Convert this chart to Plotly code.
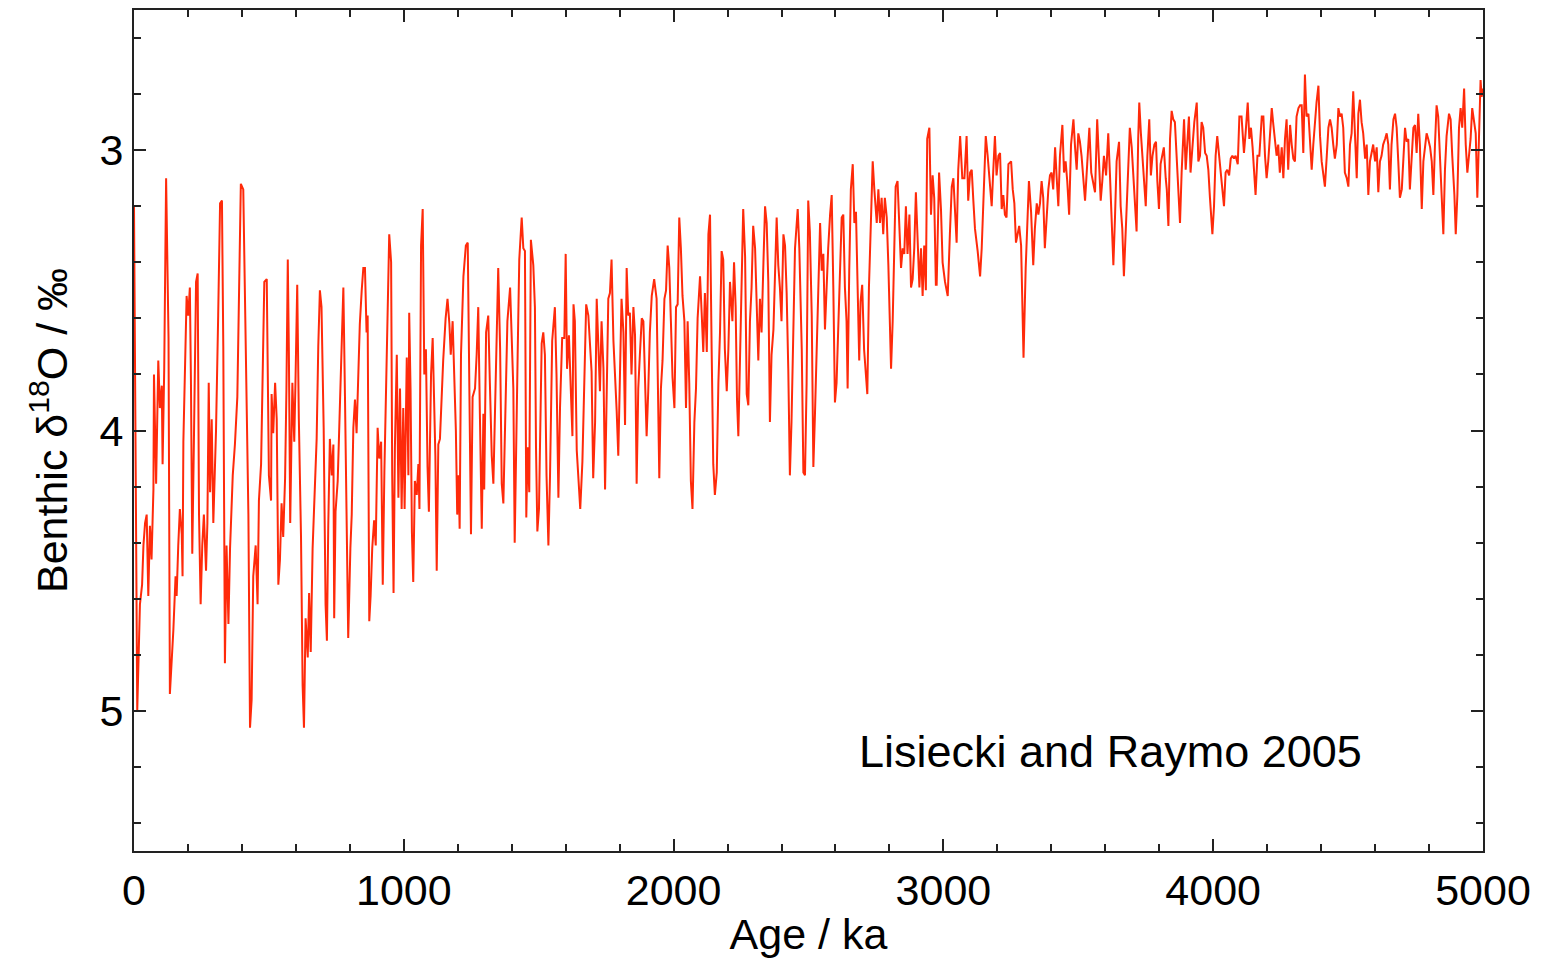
import plotly.graph_objects as go

# LR04 benthic d18O stack (Lisiecki & Raymo 2005), age in ka and d18O in permil
age_ka = [
    0, 5, 12, 22, 30, 35, 41, 47, 53, 59, 65, 72, 74, 82, 90, 96, 103, 106, 112, 119,
    128, 133, 140, 146, 154, 158, 164, 170, 177, 180, 183, 189, 195, 201, 207, 211, 216, 222, 230, 236,
    241, 247, 253, 259, 267, 272, 277, 282, 288, 294, 304, 312, 319, 326, 331, 337, 343, 350, 356, 366,
    374, 383, 390, 396, 405, 411, 418, 424, 430, 436, 442, 451, 458, 463, 471, 476, 483, 492, 495, 500,
    508, 510, 516, 523, 529, 535, 541, 547, 553, 560, 565, 570, 574, 579, 587, 594, 599, 605, 611, 619,
    625, 630, 636, 644, 649, 655, 662, 671, 677, 683, 689, 695, 703, 710, 715, 720, 726, 733, 739, 742,
    747, 755, 763, 770, 776, 782, 788, 794, 802, 807, 813, 819, 825, 831, 837, 844, 850, 856, 862, 866,
    872, 877, 883, 890, 896, 903, 909, 916, 922, 928, 934, 939, 946, 953, 957, 962, 967, 974, 980, 986,
    992, 998, 1003, 1011, 1017, 1020, 1025, 1030, 1035, 1041, 1048, 1054, 1058, 1064, 1070, 1076, 1082, 1088, 1093, 1101,
    1107, 1112, 1117, 1122, 1128, 1134, 1140, 1146, 1155, 1162, 1169, 1174, 1181, 1187, 1193, 1198, 1203, 1207, 1212, 1221,
    1230, 1237, 1243, 1249, 1255, 1264, 1270, 1276, 1282, 1289, 1295, 1298, 1305, 1313, 1319, 1326, 1332, 1338, 1344, 1350,
    1357, 1363, 1369, 1375, 1384, 1394, 1400, 1406, 1411, 1417, 1422, 1428, 1437, 1443, 1449, 1454, 1459, 1465, 1471, 1480,
    1486, 1490, 1495, 1501, 1506, 1511, 1517, 1523, 1529, 1536, 1542, 1550, 1560, 1566, 1573, 1579, 1587, 1595, 1600, 1605,
    1612, 1618, 1625, 1629, 1634, 1641, 1647, 1654, 1662, 1669, 1676, 1684, 1690, 1696, 1702, 1709, 1715, 1721, 1727, 1733,
    1740, 1746, 1752, 1758, 1764, 1770, 1777, 1783, 1789, 1795, 1801, 1807, 1814, 1820, 1826, 1832, 1838, 1844, 1851, 1857,
    1863, 1869, 1875, 1882, 1888, 1894, 1900, 1906, 1912, 1919, 1928, 1937, 1943, 1947, 1953, 1959, 1966, 1972, 1978, 1984,
    1990, 1996, 2003, 2009, 2015, 2021, 2027, 2033, 2040, 2046, 2052, 2058, 2064, 2070, 2077, 2083, 2089, 2098, 2104, 2110,
    2116, 2123, 2129, 2135, 2141, 2147, 2153, 2160, 2166, 2172, 2178, 2184, 2190, 2197, 2203, 2209, 2218, 2224, 2230, 2235,
    2240, 2246, 2252, 2258, 2265, 2271, 2277, 2283, 2289, 2295, 2302, 2308, 2314, 2320, 2326, 2333, 2339, 2345, 2351, 2357,
    2363, 2370, 2376, 2382, 2388, 2394, 2400, 2407, 2413, 2419, 2425, 2431, 2437, 2444, 2450, 2460, 2466, 2475, 2481, 2487,
    2493, 2499, 2505, 2512, 2518, 2524, 2530, 2536, 2543, 2549, 2555, 2561, 2567, 2573, 2580, 2586, 2592, 2598, 2604, 2611,
    2617, 2623, 2629, 2635, 2641, 2645, 2651, 2657, 2664, 2670, 2676, 2682, 2688, 2693, 2699, 2706, 2712, 2718, 2724, 2730,
    2738, 2744, 2753, 2759, 2765, 2771, 2777, 2783, 2790, 2796, 2802, 2806, 2812, 2817, 2823, 2830, 2837, 2843, 2849, 2855,
    2861, 2867, 2874, 2880, 2886, 2892, 2898, 2904, 2911, 2917, 2923, 2929, 2935, 2940, 2948, 2954, 2960, 2966, 2972, 2975,
    2984, 2991, 2997, 3006, 3016, 3024, 3031, 3037, 3043, 3049, 3055, 3062, 3070, 3078, 3086, 3092, 3099, 3105, 3111, 3117,
    3127, 3136, 3142, 3148, 3157, 3164, 3173, 3179, 3185, 3191, 3197, 3204, 3210, 3216, 3222, 3228, 3234, 3241, 3251, 3257,
    3263, 3269, 3275, 3281, 3288, 3293, 3297, 3305, 3311, 3317, 3325, 3333, 3339, 3346, 3352, 3358, 3364, 3370, 3376, 3383,
    3389, 3395, 3401, 3407, 3414, 3420, 3426, 3432, 3441, 3447, 3453, 3459, 3466, 3473, 3482, 3488, 3494, 3500, 3506, 3512,
    3519, 3525, 3533, 3541, 3548, 3556, 3562, 3570, 3578, 3583, 3589, 3595, 3603, 3611, 3617, 3624, 3630, 3636, 3642, 3651,
    3657, 3663, 3669, 3677, 3683, 3691, 3698, 3704, 3710, 3716, 3722, 3726, 3732, 3738, 3743, 3750, 3756, 3763, 3769, 3775,
    3782, 3788, 3793, 3799, 3805, 3811, 3817, 3824, 3828, 3834, 3840, 3846, 3852, 3858, 3865, 3871, 3877, 3883, 3892, 3898,
    3904, 3910, 3916, 3923, 3930, 3939, 3945, 3951, 3957, 3963, 3970, 3976, 3982, 3988, 3997, 4003, 4009, 4015, 4022, 4028,
    4034, 4040, 4046, 4052, 4059, 4065, 4071, 4077, 4083, 4091, 4097, 4105, 4114, 4120, 4128, 4134, 4140, 4146, 4152, 4157,
    4164, 4171, 4180, 4186, 4192, 4198, 4204, 4210, 4217, 4223, 4229, 4235, 4241, 4247, 4254, 4260, 4266, 4272, 4278, 4285,
    4291, 4297, 4303, 4309, 4316, 4322, 4328, 4334, 4340, 4346, 4353, 4359, 4365, 4371, 4377, 4383, 4390, 4396, 4402, 4408,
    4414, 4421, 4427, 4433, 4439, 4445, 4451, 4458, 4464, 4470, 4476, 4482, 4488, 4495, 4501, 4507, 4513, 4519, 4525, 4532,
    4538, 4544, 4550, 4556, 4563, 4569, 4575, 4581, 4587, 4593, 4600, 4606, 4612, 4618, 4624, 4630, 4637, 4643, 4649, 4655,
    4661, 4668, 4674, 4680, 4686, 4692, 4699, 4705, 4711, 4717, 4723, 4729, 4736, 4742, 4748, 4754, 4760, 4766, 4773, 4779,
    4785, 4791, 4797, 4804, 4810, 4816, 4822, 4828, 4834, 4841, 4847, 4853, 4859, 4865, 4874, 4880, 4886, 4894, 4899, 4905,
    4911, 4917, 4923, 4930, 4936, 4942, 4948, 4954, 4960, 4966, 4973, 4979, 4985, 4991, 4995, 5000,
]

d18o_permil = [
    3.20, 3.83, 5.00, 4.62, 4.55, 4.41, 4.33, 4.30, 4.59, 4.34, 4.46, 4.21, 3.80, 4.19, 3.75, 3.92, 3.84, 4.12, 3.78, 3.10,
    3.67, 4.94, 4.82, 4.71, 4.52, 4.59, 4.41, 4.28, 4.37, 4.52, 4.04, 3.76, 3.52, 3.59, 3.49, 3.82, 4.44, 4.04, 3.47, 3.44,
    4.30, 4.62, 4.41, 4.30, 4.50, 4.33, 3.83, 4.22, 3.96, 4.33, 4.00, 3.59, 3.19, 3.18, 3.70, 4.83, 4.41, 4.69, 4.42, 4.16,
    4.05, 3.88, 3.41, 3.12, 3.14, 3.50, 3.96, 4.30, 5.06, 4.96, 4.52, 4.41, 4.62, 4.25, 4.12, 3.79, 3.47, 3.46, 3.78, 4.16,
    4.25, 3.87, 4.01, 3.83, 3.96, 4.55, 4.46, 4.26, 4.38, 4.17, 3.85, 3.39, 3.72, 4.33, 3.83, 4.04, 3.80, 3.48, 3.96, 4.38,
    4.91, 5.06, 4.67, 4.81, 4.58, 4.79, 4.42, 4.18, 4.03, 3.70, 3.50, 3.56, 3.99, 4.62, 4.75, 4.34, 4.03, 4.16, 4.05, 4.67,
    4.29, 4.18, 3.89, 3.64, 3.49, 3.88, 4.36, 4.74, 4.42, 4.30, 3.99, 3.89, 4.01, 3.83, 3.62, 3.50, 3.42, 3.42, 3.65, 3.59,
    4.68, 4.59, 4.42, 4.32, 4.41, 3.99, 4.10, 4.04, 4.55, 4.15, 3.86, 3.58, 3.30, 3.40, 4.16, 4.58, 4.06, 3.73, 4.24, 3.85,
    4.28, 3.92, 4.28, 3.74, 4.16, 3.58, 3.85, 4.36, 4.54, 4.18, 4.23, 4.12, 4.28, 3.34, 3.21, 3.80, 3.71, 4.13, 4.29, 3.80,
    3.67, 3.88, 4.09, 4.50, 4.05, 4.03, 3.86, 3.75, 3.60, 3.53, 3.62, 3.73, 3.61, 3.83, 4.00, 4.30, 4.16, 4.35, 3.73, 3.45,
    3.34, 3.33, 3.83, 4.37, 3.88, 3.85, 3.73, 3.56, 3.94, 4.35, 3.94, 4.21, 3.65, 3.59, 3.83, 4.09, 4.19, 3.94, 3.73, 3.42,
    3.71, 4.19, 4.26, 3.97, 3.61, 3.49, 3.71, 3.85, 4.40, 3.97, 3.73, 3.39, 3.24, 3.35, 3.36, 4.31, 4.06, 4.22, 3.32, 3.41,
    3.56, 4.06, 4.36, 4.28, 3.92, 3.69, 3.65, 3.73, 4.16, 4.41, 4.16, 3.68, 3.56, 3.80, 4.24, 3.92, 3.67, 3.67, 3.37, 3.78,
    3.66, 3.87, 4.02, 3.55, 3.61, 4.07, 4.18, 4.28, 4.11, 3.78, 3.55, 3.59, 3.71, 3.79, 4.17, 3.97, 3.53, 3.71, 3.86, 3.61,
    3.78, 4.21, 3.83, 3.53, 3.51, 3.39, 3.68, 3.79, 3.93, 4.09, 3.85, 3.53, 3.65, 3.98, 3.42, 3.59, 3.58, 3.80, 3.56, 3.66,
    4.19, 3.85, 3.73, 3.60, 3.61, 3.83, 4.02, 3.86, 3.65, 3.52, 3.46, 3.53, 3.84, 4.17, 3.85, 3.75, 3.53, 3.50, 3.34, 3.42,
    3.61, 3.81, 3.92, 3.56, 3.55, 3.24, 3.35, 3.52, 3.61, 3.92, 3.61, 3.83, 4.18, 4.28, 3.97, 3.85, 3.60, 3.45, 3.58, 3.72,
    3.51, 3.72, 3.30, 3.23, 3.71, 4.12, 4.23, 4.15, 3.83, 3.65, 3.36, 3.39, 3.71, 3.86, 3.71, 3.47, 3.61, 3.40, 3.56, 3.89,
    4.02, 3.71, 3.46, 3.21, 3.38, 3.87, 3.91, 3.61, 3.49, 3.27, 3.35, 3.59, 3.75, 3.53, 3.65, 3.40, 3.20, 3.26, 3.47, 3.97,
    3.73, 3.64, 3.39, 3.24, 3.41, 3.49, 3.61, 3.30, 3.34, 3.51, 3.78, 4.16, 3.97, 3.68, 3.35, 3.21, 3.35, 3.71, 4.15, 4.16,
    3.83, 3.18, 3.29, 3.59, 4.13, 3.94, 3.71, 3.51, 3.26, 3.43, 3.37, 3.64, 3.47, 3.35, 3.23, 3.16, 3.49, 3.90, 3.83, 3.61,
    3.35, 3.24, 3.23, 3.49, 3.61, 3.85, 3.43, 3.14, 3.05, 3.26, 3.22, 3.55, 3.75, 3.54, 3.48, 3.71, 3.79, 3.87, 3.49, 3.26,
    3.04, 3.14, 3.26, 3.14, 3.26, 3.17, 3.30, 3.17, 3.24, 3.41, 3.68, 3.78, 3.61, 3.37, 3.13, 3.11, 3.26, 3.42, 3.35, 3.37,
    3.20, 3.37, 3.23, 3.49, 3.46, 3.35, 3.15, 3.28, 3.49, 3.35, 3.52, 3.34, 3.50, 2.96, 2.92, 3.23, 3.09, 3.17, 3.48, 3.48,
    3.08, 3.21, 3.40, 3.47, 3.52, 3.30, 3.13, 3.10, 3.24, 3.33, 3.07, 2.95, 3.10, 3.10, 2.95, 3.18, 3.08, 3.07, 3.18, 3.28,
    3.36, 3.45, 3.35, 3.18, 2.95, 3.02, 3.14, 3.20, 3.07, 2.95, 3.09, 3.02, 3.01, 3.21, 3.16, 3.23, 3.24, 3.05, 3.04, 3.14,
    3.19, 3.33, 3.30, 3.27, 3.34, 3.54, 3.74, 3.42, 3.28, 3.11, 3.22, 3.41, 3.28, 3.19, 3.23, 3.19, 3.11, 3.17, 3.35, 3.22,
    3.14, 3.09, 3.08, 3.14, 2.99, 3.10, 3.20, 3.02, 2.91, 3.08, 3.04, 3.11, 3.23, 2.98, 2.89, 2.99, 3.07, 2.94, 2.97, 3.02,
    3.10, 3.18, 3.05, 2.92, 3.08, 3.13, 3.15, 2.89, 3.08, 3.18, 3.11, 3.02, 3.09, 2.94, 3.08, 3.27, 3.41, 3.24, 3.04, 2.97,
    3.20, 3.28, 3.45, 3.26, 3.08, 2.92, 2.99, 3.08, 3.17, 3.29, 2.96, 2.83, 2.94, 3.02, 3.08, 3.20, 3.02, 2.89, 3.09, 3.02,
    2.98, 2.97, 3.11, 3.21, 3.05, 3.02, 2.99, 3.10, 3.14, 3.27, 2.96, 2.86, 2.89, 2.90, 3.05, 3.17, 3.26, 3.08, 2.89, 3.07,
    2.96, 2.88, 3.08, 2.99, 2.90, 2.83, 3.04, 3.02, 2.90, 2.92, 3.01, 3.02, 3.07, 3.17, 3.30, 3.20, 3.02, 2.95, 3.03, 3.07,
    3.14, 3.20, 3.08, 3.07, 3.09, 3.03, 3.02, 3.03, 3.02, 3.05, 2.88, 2.88, 3.01, 2.94, 2.83, 2.96, 2.92, 2.99, 3.08, 3.16,
    3.02, 3.02, 2.88, 2.88, 3.02, 3.10, 3.04, 2.96, 2.85, 2.91, 2.96, 3.02, 2.98, 3.08, 2.99, 3.10, 2.96, 2.89, 3.07, 2.91,
    2.98, 3.03, 3.04, 2.88, 2.85, 2.84, 2.84, 3.01, 2.73, 2.88, 2.87, 2.97, 3.07, 2.98, 2.90, 2.83, 2.77, 2.95, 3.04, 3.08,
    3.13, 3.02, 2.92, 2.89, 2.92, 2.98, 3.03, 2.98, 2.85, 2.88, 2.87, 2.92, 3.08, 3.10, 3.13, 2.98, 2.94, 2.79, 2.92, 3.10,
    2.87, 2.82, 2.90, 2.94, 3.03, 2.98, 3.16, 3.04, 3.01, 2.98, 3.04, 2.99, 3.15, 3.04, 3.02, 2.98, 2.96, 2.94, 2.98, 3.14,
    2.98, 2.89, 2.87, 2.92, 3.04, 3.17, 3.14, 3.02, 2.92, 2.97, 2.96, 3.14, 3.02, 2.92, 2.91, 3.01, 2.87, 2.98, 3.21, 3.04,
    2.99, 2.94, 2.96, 2.99, 3.04, 3.16, 2.98, 2.84, 2.88, 3.04, 3.16, 3.30, 3.07, 2.95, 2.87, 2.89, 3.02, 3.16, 3.30, 3.16,
    2.92, 2.85, 2.92, 2.78, 2.98, 3.08, 3.02, 2.96, 2.85, 2.90, 2.94, 3.17, 2.97, 2.75, 2.81, 2.78,
]

x_major_ticks = [0, 1000, 2000, 3000, 4000, 5000]
y_major_ticks = [3, 4, 5]
source_label = "Lisiecki and Raymo 2005"

FONT = "Liberation Sans, Arial, Helvetica, sans-serif"
FS = 43

fig = go.Figure()
fig.add_trace(go.Scatter(
    x=age_ka, y=d18o_permil, mode="lines",
    line=dict(color="#ff2a0a", width=2.0),
    hoverinfo="x+y", showlegend=False,
))

axis_common = dict(
    showline=True, linecolor="#222222", linewidth=2, mirror="allticks",
    ticks="inside", tickcolor="#222222", tickwidth=1.5, ticklen=12,
    showgrid=False, zeroline=False,
    tickfont=dict(family=FONT, size=FS, color="#000000"),
)

fig.update_xaxes(
    range=[0, 5000], tickvals=x_major_ticks,
    minor=dict(dtick=200, ticks="inside", ticklen=7, tickwidth=1.5, tickcolor="#222222", showgrid=False),
    title=dict(text="Age / ka", font=dict(family=FONT, size=FS, color="#000000"), standoff=6),
    **axis_common,
)
fig.update_yaxes(
    range=[5.5, 2.5], tickvals=y_major_ticks,
    minor=dict(dtick=0.2, ticks="inside", ticklen=7, tickwidth=1.5, tickcolor="#222222", showgrid=False),
    title=dict(text="Benthic δ<sup>18</sup>O / ‰", font=dict(family=FONT, size=FS, color="#000000"), standoff=18),
    **axis_common,
)

fig.add_annotation(
    x=3620, y=5.145, xref="x", yref="y", text=source_label, showarrow=False,
    font=dict(family=FONT, size=45, color="#000000"), bgcolor="#ffffff", borderpad=4,
)

fig.update_layout(
    width=1543, height=965,
    margin=dict(l=134, r=60, t=8, b=114),
    paper_bgcolor="#ffffff", plot_bgcolor="#ffffff",
)

fig.write_html("out.html")
